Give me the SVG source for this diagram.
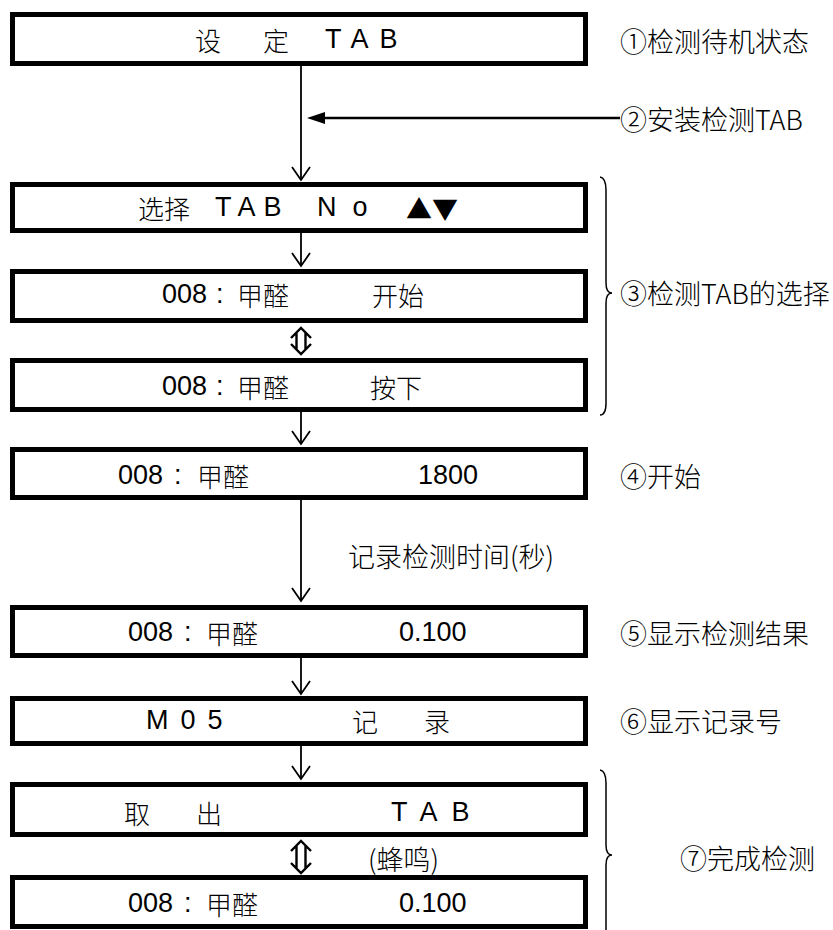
<svg xmlns="http://www.w3.org/2000/svg" width="833" height="930" viewBox="0 0 833 930">
<style>
.box{fill:#fff;stroke:#000;stroke-width:5}
.t{font-family:"Liberation Sans",Arial,sans-serif;font-size:27px;fill:#000;dominant-baseline:central}
.c{font-family:"Noto Sans CJK SC",sans-serif;font-size:26px;fill:#000;dominant-baseline:central;font-weight:300}
.lb{font-family:"Noto Sans CJK SC",sans-serif;font-size:27px;fill:#000;dominant-baseline:central;font-weight:300}
.ln{fill:none;stroke:#000;stroke-width:1.8}
.dbl{fill:none;stroke:#000;stroke-width:2.4;stroke-linejoin:miter}
.br{fill:none;stroke:#000;stroke-width:1.5}
</style>
<g id="connectors">
<line class="ln" x1="301" y1="66" x2="301" y2="180"/><path class="ln" d="M292,167 L301,180 L310,167"/>
<line x1="620" y1="118" x2="320" y2="118" stroke="#000" stroke-width="2.6"/><path d="M307,118 L325,112 L325,124 Z" fill="#000"/>
<line class="ln" x1="301" y1="233" x2="301" y2="266"/><path class="ln" d="M292,253 L301,266 L310,253"/>
<path class="dbl" d="M291,338 L301,328 L311,338 M291,344 L301,354 L311,344 M296.5,333 L296.5,349 M305.5,333 L305.5,349"/>
<line class="ln" x1="301" y1="412" x2="301" y2="444"/><path class="ln" d="M292,431 L301,444 L310,431"/>
<line class="ln" x1="301" y1="500" x2="301" y2="601"/><path class="ln" d="M292,588 L301,601 L310,588"/>
<line class="ln" x1="301" y1="658" x2="301" y2="694"/><path class="ln" d="M292,681 L301,694 L310,681"/>
<line class="ln" x1="301" y1="745" x2="301" y2="779"/><path class="ln" d="M292,766 L301,779 L310,766"/>
<path class="dbl" d="M291,851 L301,841 L311,851 M291,863 L301,873 L311,863 M296.5,846 L296.5,868 M305.5,846 L305.5,868"/>
<path class="br" d="M600,177 Q606,178 606,190 L606,283 Q606,293 612,293 Q606,293 606,303 L606,403 Q606,415 600,415"/>
<path class="br" d="M600,770 Q606,771 606,783 L606,845 Q606,855 612,855 Q606,855 606,865 L606,930"/>
</g>
<g id="n1"><rect class="box" x="12.5" y="14.5" width="573" height="49"/><text class="c" x="195" y="39">设</text><text class="c" x="263" y="39">定</text><text class="t" x="325" y="39" letter-spacing="11">TAB</text></g>
<g id="l1"><text class="lb" x="620" y="40">①检测待机状态</text></g>
<g id="l2"><text class="lb" x="620" y="118">②安装检测TAB</text></g>
<g id="n2"><rect class="box" x="12.5" y="184.5" width="573" height="46"/><text class="c" x="138" y="207">选择</text><text class="t" x="215" y="207" letter-spacing="8">TAB</text><text class="t" x="317" y="207" letter-spacing="16">No</text><text class="c" x="406" y="207" font-size="29">▲▼</text></g>
<g id="n3"><rect class="box" x="12.5" y="271.5" width="573" height="49"/><text class="t" x="162" y="294">008</text><text class="t" x="216" y="294">:</text><text class="c" x="237" y="294">甲醛</text><text class="c" x="372" y="294">开始</text></g>
<g id="l3"><text class="lb" x="620" y="292">③检测TAB的选择</text></g>
<g id="n4"><rect class="box" x="12.5" y="360.5" width="573" height="49"/><text class="t" x="162" y="386">008</text><text class="t" x="216" y="386">:</text><text class="c" x="237" y="386">甲醛</text><text class="c" x="370" y="386">按下</text></g>
<g id="n5"><rect class="box" x="12.5" y="449.5" width="573" height="48"/><text class="t" x="118" y="475">008</text><text class="t" x="174" y="475">:</text><text class="c" x="197" y="475">甲醛</text><text class="t" x="418" y="475">1800</text></g>
<g id="l4"><text class="lb" x="620" y="475">④开始</text></g>
<g id="l4b"><text class="lb" x="348" y="555">记录检测时间(秒)</text></g>
<g id="n6"><rect class="box" x="12.5" y="607.5" width="573" height="48"/><text class="t" x="128" y="632">008</text><text class="t" x="184" y="632">:</text><text class="c" x="206" y="632">甲醛</text><text class="t" x="399" y="632">0.100</text></g>
<g id="l5"><text class="lb" x="620" y="632">⑤显示检测结果</text></g>
<g id="n7"><rect class="box" x="12.5" y="698.5" width="573" height="45"/><text class="t" x="146" y="720" letter-spacing="12">M05</text><text class="c" x="352" y="720">记</text><text class="c" x="424" y="720">录</text></g>
<g id="l6"><text class="lb" x="620" y="720">⑥显示记录号</text></g>
<g id="n8"><rect class="box" x="12.5" y="784.5" width="573" height="50"/><text class="c" x="124" y="812">取</text><text class="c" x="196" y="812">出</text><text class="t" x="391" y="812" letter-spacing="14">TAB</text></g>
<g id="l7a"><text class="lb" x="368" y="858">(蜂鸣)</text></g>
<g id="l7"><text class="lb" x="680" y="857">⑦完成检测</text></g>
<g id="n9"><rect class="box" x="12.5" y="877.5" width="573" height="49"/><text class="t" x="128" y="903">008</text><text class="t" x="184" y="903">:</text><text class="c" x="206" y="903">甲醛</text><text class="t" x="399" y="903">0.100</text></g>
</svg>
